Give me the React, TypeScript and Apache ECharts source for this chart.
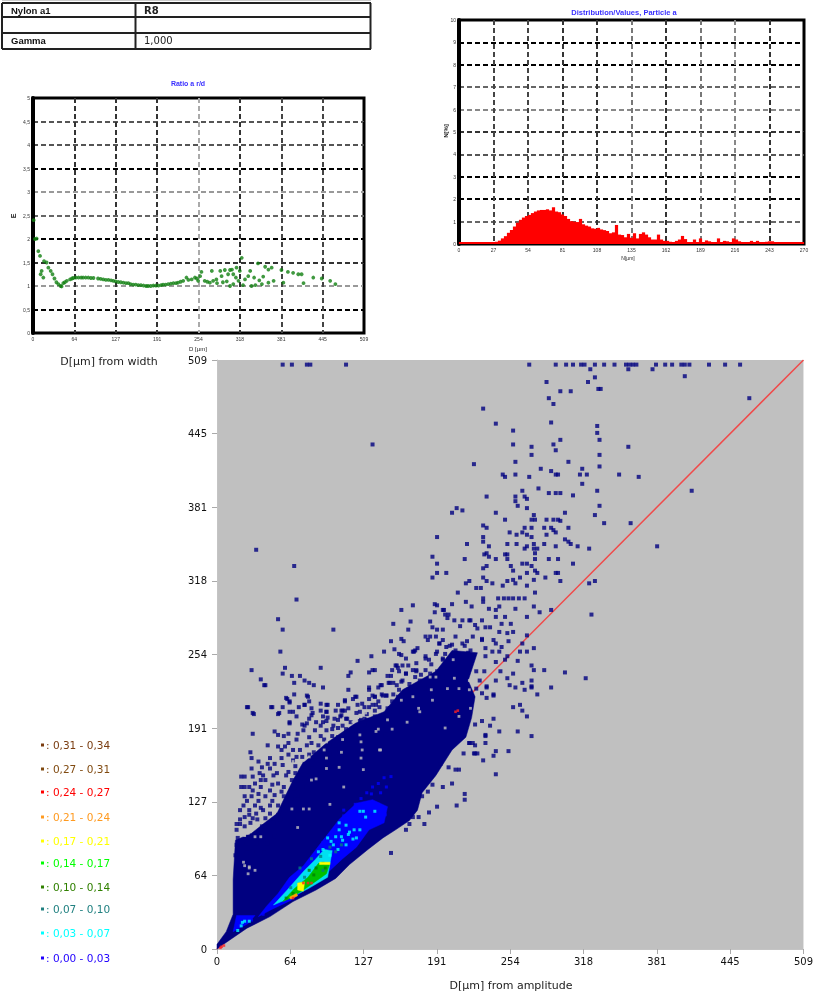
import React, { useEffect, useRef } from "react";
import * as echarts from "echarts";

const mainTicks = ["0", "64", "127", "191", "254", "318", "381", "445", "509"];
const smallXTicks = ["0", "64", "127", "191", "254", "318", "381", "445", "509"];
const leftYTicks = ["0", "0,5", "1", "1,5", "2", "2,5", "3", "3,5", "4", "4,5", "5"];
const histXTicks = ["0", "27", "54", "81", "108", "135", "162", "189", "216", "243", "270"];
const histYTicks = ["0", "1", "2", "3", "4", "5", "6", "7", "8", "9", "10"];
const tableRows = [["Nylon a1", "R8"], ["", ""], ["Gamma", "1,000"]];
const legendRows = [
  ["0,31 - 0,34", "#7a3c10"], ["0,27 - 0,31", "#804a10"], ["0,24 - 0,27", "#ff0000"], ["0,21 - 0,24", "#ff9a20"],
  ["0,17 - 0,21", "#ffff00"], ["0,14 - 0,17", "#00ff00"], ["0,10 - 0,14", "#308000"], ["0,07 - 0,10", "#208080"],
  ["0,03 - 0,07", "#00ffff"], ["0,00 - 0,03", "#2000ff"],
];

const ratioPoints = [
  [1, 2.4], [3, 2], [5.7, 2.01], [8.2, 1.74], [10.8, 1.64], [17, 1.53], [21, 1.5], [23.6, 1.39], [27.2, 1.32], [30, 1.25], [33, 1.16],
  [13.3, 1.32], [11.8, 1.25], [15.9, 1.18], [36, 1.08], [39, 1.04], [42.5, 1], [44, 0.99], [46.6, 1.06], [49, 1.08], [52, 1.11], [57, 1.14], [60, 1.16], [62, 1.17], [66, 1.18], [70, 1.18],
  [74, 1.18], [77, 1.18], [81, 1.18], [85, 1.18], [89, 1.17], [93, 1.17], [100, 1.16], [104, 1.15], [108, 1.14], [112, 1.13], [116, 1.13], [120, 1.12], [123.5, 1.11], [127, 1.1], [131, 1.085],
  [135, 1.08], [139, 1.07], [143, 1.06], [146.6, 1.06], [150, 1.04], [154, 1.03], [158, 1.03], [162, 1.02], [166, 1.02], [170, 1.01], [174, 1], [177, 1], [181, 1], [185, 1.01], [189, 1.01], [193, 1.01],
  [197, 1.02], [200, 1.03], [204, 1.03], [208, 1.04], [212, 1.05], [216, 1.06], [220, 1.06], [223, 1.07], [227, 1.09], [231, 1.11], [236, 1.18], [239, 1.13], [244, 1.14], [249, 1.18], [252, 1.16],
  [257, 1.21], [259, 1.3], [254, 1.11], [264, 1.11], [268, 1.09], [272, 1.07], [275, 1.32], [277, 1.11], [282, 1.14], [288, 1.32], [290, 1.21], [295, 1.34], [303, 1.34], [306, 1.35], [308, 1.04], [303, 1],
  [300, 1.25], [308, 1.25], [313, 1.39], [321, 1.6], [318, 1.32], [326, 1.14], [331, 1.21], [334, 1.32], [316, 1.11], [346, 1.48], [352, 1.04], [357, 1.41], [362, 1.35], [367, 1.39], [370, 1.11],
  [362, 1.07], [382, 1.34], [385, 1.07], [392, 1.3], [400, 1.28], [408, 1.25], [413, 1.25], [416, 1.06], [431, 1.18], [444, 1.16], [457, 1.11], [465, 1.04], [283, 1.06], [292, 1.08], [298, 1.1], [312, 1.18],
  [323, 1.02], [336, 1], [342, 1.02], [348, 1.12], [354, 1.2], [340, 1.18],
];

const histValues = [
  0.09, 0.09, 0.09, 0.09, 0.09, 0.09, 0.09, 0.09, 0.09, 0.09, 0.09, 0.09, 0.1, 0.15, 0.25, 0.35, 0.5, 0.62, 0.78, 0.95,
  1.08, 1.18, 1.25, 1.3, 1.38, 1.45, 1.5, 1.52, 1.52, 1.55, 1.5, 1.64, 1.45, 1.42, 1.32, 1.25, 1.12, 1.02, 1.0, 0.98,
  1.12, 0.88, 0.82, 0.78, 0.7, 0.68, 0.72, 0.65, 0.62, 0.58, 0.48, 0.52, 0.85, 0.42, 0.4, 0.3, 0.45, 0.28, 0.48, 0.25,
  0.45, 0.52, 0.42, 0.3, 0.2, 0.2, 0.42, 0.2, 0.14, 0.14, 0.1, 0.09, 0.14, 0.2, 0.36, 0.22, 0.09, 0.09, 0.2, 0.09,
  0.25, 0.09, 0.16, 0.12, 0.09, 0.09, 0.25, 0.09, 0.14, 0.12, 0.09, 0.25, 0.2, 0.12, 0.09, 0.09, 0.09, 0.14, 0.09, 0.14,
  0.09, 0.09, 0.1, 0.12, 0.12, 0.09, 0.09, 0.09, 0.09, 0.09, 0.09, 0.09, 0.09, 0.09, 0.09,
];

const solidBand = [
  [0, 0], [7, 5], [26, 18], [46, 28], [66, 41], [86, 51], [103, 61], [115, 73], [131, 86], [144, 96], [155, 103], [167, 111], [174, 120], [178, 135], [190, 150],
  [204, 172], [216, 183], [221, 200], [224, 218], [218, 232], [226, 256], [204, 258], [190, 240], [161, 224], [145, 205], [120, 195], [95, 178], [74, 160], [66, 146], [52, 117],
  [40, 108], [30, 100], [16, 94], [14, 60], [14, 30], [8, 15], [0, 4],
];
const blueBand = [
  [43, 37], [53, 48], [63, 62], [75, 72], [89, 90], [106, 112], [121, 126], [135, 129], [148, 123], [145, 109], [132, 103], [121, 88], [109, 78], [96, 66], [80, 54], [64, 42], [47, 34], [36, 28],
];
const blueBandLeft = [[17, 29], [33, 29], [27, 22], [14, 15]];
const cyanBand = [
  [49, 38], [60, 50], [76, 68], [85, 77], [93, 86], [100, 85], [96, 62], [79, 52], [63, 44],
];
const greenBand = [
  [57, 41], [67, 52], [79, 62], [88, 74], [98, 74], [95, 65], [85, 58], [75, 51], [64, 44],
];
const yellowBand = [[70, 57], [76, 58], [75, 50], [70, 51]];
const yellowStrip = [[89, 75], [98, 75], [98, 73], [89, 73]];
const orangeStrip = [[63, 45], [69, 48], [70, 46], [64, 43]];

const navyCells = [
  [57, 505], [65, 505], [78, 505], [81, 505], [112, 505], [135, 436], [34, 345], [67, 331], [69, 302], [53, 285], [57, 276], [101, 276], [55, 257], [30, 241], [38, 233], [42, 228], [59, 243], [57, 238],
  [65, 236], [72, 236], [76, 232], [80, 230], [84, 228], [67, 230], [90, 243], [92, 226], [67, 220], [61, 216], [63, 213], [26, 209], [32, 203], [48, 209], [57, 209], [53, 203], [63, 205], [71, 209],
  [76, 211], [78, 219], [80, 214], [90, 212], [95, 211], [95, 205], [90, 206], [111, 214], [105, 211], [103, 206], [109, 206], [114, 224], [114, 236], [116, 239], [122, 249], [134, 253], [145, 257], [154, 259],
  [151, 266], [160, 268], [162, 266], [166, 276], [153, 281], [168, 283], [160, 293], [170, 297], [132, 239], [135, 241], [137, 241], [143, 228], [151, 236], [149, 230], [153, 230], [132, 226], [132, 224], [132, 216],
  [137, 218], [143, 220], [147, 219], [153, 220], [158, 224], [118, 216], [120, 218], [122, 211], [124, 205], [124, 197], [132, 209], [135, 211], [130, 203], [156, 245], [158, 240], [160, 254], [164, 251], [170, 257],
  [172, 258], [166, 245], [164, 238], [170, 241], [161, 232], [167, 229], [172, 235], [76, 193], [82, 202], [80, 199], [69, 201], [63, 195], [90, 193], [95, 197], [92, 201], [101, 193], [105, 198], [107, 201], [113, 199], [109, 193],
  [191, 356], [187, 339], [191, 333], [191, 325], [199, 325], [187, 321], [189, 298], [191, 297], [189, 291], [196, 293], [198, 289], [200, 286], [185, 283], [187, 278], [191, 276], [196, 276], [181, 270], [185, 270], [190, 270],
  [193, 264], [199, 261], [158, 255], [174, 260], [181, 253], [184, 250], [191, 257], [196, 251], [155, 245], [173, 241], [177, 237], [185, 238], [191, 240], [196, 235],
  [271, 505], [294, 505], [303, 505], [309, 505], [316, 505], [319, 505], [328, 505], [336, 505], [345, 505], [355, 505], [358, 505], [361, 505], [364, 505], [381, 505], [389, 505], [395, 505], [403, 505], [406, 505], [410, 505], [427, 505], [441, 505], [454, 505],
  [324, 501], [357, 501], [378, 501], [406, 495], [328, 494], [322, 490], [286, 490], [331, 484], [333, 484], [298, 482], [307, 482], [462, 476], [288, 476], [292, 471], [231, 467], [290, 455], [242, 454], [330, 452], [257, 448], [330, 446],
  [298, 440], [332, 440], [257, 436], [292, 436], [273, 434], [357, 434], [294, 431], [273, 427], [332, 427], [259, 421], [305, 421], [223, 419], [332, 417], [281, 415], [317, 415], [290, 413], [294, 410], [296, 410], [248, 410], [250, 408],
  [259, 410], [271, 408], [315, 410], [321, 410], [349, 410], [366, 408], [317, 402], [279, 398], [265, 396], [288, 394], [294, 394], [298, 394], [309, 392], [330, 396], [412, 396], [234, 391], [259, 391], [267, 391], [269, 389], [259, 387],
  [261, 383], [269, 381], [332, 383], [208, 381], [204, 377], [213, 379], [242, 377], [302, 377], [328, 375], [275, 375], [273, 371], [276, 371], [250, 371], [286, 371], [292, 371], [296, 371], [298, 370], [336, 368], [359, 368], [231, 366],
  [234, 364], [267, 364], [273, 364], [305, 364], [284, 364], [290, 364], [292, 362], [254, 360], [260, 358], [265, 360], [269, 358], [273, 356], [286, 358], [294, 360], [231, 356], [231, 352], [302, 354], [305, 352], [307, 350], [313, 348],
  [323, 346], [382, 348], [217, 350], [236, 348], [252, 350], [260, 350], [267, 346], [269, 348], [275, 350], [275, 346], [278, 346], [284, 350], [294, 348], [276, 342], [234, 342], [232, 341], [236, 339], [250, 341], [252, 341], [215, 337],
  [242, 337], [252, 337], [288, 337], [296, 337], [276, 337], [265, 333], [269, 333], [234, 331], [231, 329], [255, 331], [257, 327], [273, 331], [276, 327], [309, 333], [294, 325], [296, 325], [263, 321], [285, 321], [269, 325], [278, 325],
  [231, 321], [298, 318], [328, 318], [323, 316], [219, 318], [216, 316], [234, 318], [239, 316], [275, 319], [257, 319], [252, 318], [225, 312], [229, 312], [209, 308], [259, 316], [248, 314], [269, 314], [276, 308], [244, 303], [249, 303],
  [253, 303], [257, 303], [262, 303], [267, 303], [231, 303], [290, 293], [325, 289], [204, 298], [216, 300], [231, 300], [275, 296], [269, 287], [280, 291], [259, 294], [245, 296], [236, 294], [221, 296], [197, 293], [201, 289], [206, 284],
  [220, 284], [230, 284], [242, 287], [250, 287], [255, 281], [211, 279], [226, 277], [237, 278], [245, 274], [257, 274], [196, 267], [207, 270], [217, 266], [230, 268], [242, 264], [253, 266], [269, 271], [265, 264], [275, 260], [263, 257],
  [269, 257], [261, 249], [252, 253], [245, 257], [233, 260], [220, 258], [207, 258], [171, 257], [273, 245], [275, 241], [284, 241], [302, 239], [320, 234], [257, 238], [252, 234], [265, 230], [273, 232], [273, 226], [259, 226], [267, 224],
  [290, 226], [278, 220], [234, 226], [240, 220], [254, 228], [246, 240], [242, 232], [210, 244], [196, 250],
  [41, 228], [60, 217], [79, 218], [111, 215], [121, 218], [135, 219], [147, 219], [157, 218], [170, 219], [27, 209], [47, 209], [63, 214], [76, 211], [96, 211], [111, 206], [128, 209], [141, 209], [160, 212], [31, 204], [54, 204], [66, 205], [83, 204], [95, 205], [108, 202],
  [121, 204], [137, 206], [150, 205], [63, 196], [78, 195], [92, 196], [102, 199], [112, 199], [125, 198], [137, 201], [167, 196], [31, 186], [50, 188], [53, 185], [62, 186], [75, 189], [85, 189], [95, 189], [105, 191], [118, 191], [128, 194], [139, 195],
  [44, 176], [53, 175], [59, 175], [69, 181], [80, 183], [93, 181], [105, 183], [118, 185], [129, 185], [66, 172], [78, 176], [88, 176], [98, 176], [111, 179], [122, 178], [29, 170], [46, 165], [56, 165], [69, 166], [80, 168], [92, 172], [103, 172], [115, 173], [124, 171],
  [39, 157], [30, 165], [46, 156], [57, 159], [66, 163], [76, 160], [86, 163], [98, 168], [21, 149], [24, 149], [31, 149], [49, 150], [62, 153], [72, 150], [83, 156], [95, 156], [106, 158], [21, 140], [24, 140], [33, 143], [42, 146], [53, 143], [65, 146], [76, 147], [86, 147],
  [46, 137], [31, 137], [56, 136], [67, 139], [78, 140], [24, 132], [30, 132], [42, 132], [50, 133], [65, 130], [23, 124], [33, 124], [53, 124], [34, 117], [46, 117], [24, 114], [31, 113], [42, 113], [53, 116],
  [17, 103], [29, 109], [39, 106], [49, 109], [18, 96], [27, 97], [37, 97], [50, 97], [17, 90], [26, 91], [34, 91], [44, 91], [41, 83], [26, 83], [16, 81], [31, 84], [40, 120], [36, 128], [38, 140], [60, 125], [70, 133], [55, 112], [20, 108], [28, 120], [37, 152], [44, 160], [60, 150], [68, 158], [80, 150], [92, 163], [100, 160], [112, 165], [120, 180], [135, 190], [146, 185], [152, 195], [160, 205], [170, 210], [180, 225], [190, 235], [200, 245], [210, 255], [215, 262],
  [242, 151], [231, 163], [207, 155], [210, 155], [215, 134], [215, 129], [208, 124], [191, 123], [184, 118], [175, 114], [180, 108], [164, 103], [151, 83], [196, 140], [204, 143], [187, 142], [178, 132], [183, 136], [170, 114], [167, 108], [222, 178], [224, 169], [242, 171], [233, 178], [245, 188], [233, 185], [219, 178], [194, 160], [201, 157],
  [213, 284], [219, 284], [224, 280], [233, 278], [242, 293], [247, 281], [252, 273], [240, 267], [230, 267], [222, 270], [213, 264], [204, 263], [193, 264], [183, 267], [233, 253], [242, 248], [250, 250], [247, 261], [239, 257], [198, 255], [190, 255], [181, 251], [173, 247], [161, 245], [157, 243], [164, 238], [173, 240], [181, 241], [152, 241], [150, 230], [160, 231], [142, 228], [137, 218], [144, 219], [152, 214], [138, 211], [150, 208], [128, 199], [234, 227], [230, 221], [234, 217], [240, 219], [257, 209], [263, 211], [265, 206], [269, 201], [240, 199], [230, 197], [237, 193], [224, 194], [233, 184], [261, 188], [273, 184], [224, 176], [219, 178], [214, 169], [223, 169], [226, 169], [240, 167], [253, 171], [273, 227], [225, 240], [228, 232], [232, 240], [225, 225], [212, 250], [218, 256],
  [20, 112], [24, 106], [17, 108], [38, 102], [45, 108], [35, 112], [28, 116], [20, 120], [38, 122], [46, 124], [58, 120], [26, 128], [36, 134], [48, 128], [58, 132], [28, 140], [38, 146], [48, 142], [58, 140], [70, 146], [30, 156], [40, 150], [52, 152], [68, 152], [36, 162], [50, 160], [62, 168], [74, 166],
  [56, 172], [62, 178], [72, 172], [84, 170], [58, 184], [70, 186], [82, 178], [90, 184], [100, 184], [74, 194], [86, 196], [100, 190], [112, 190], [82, 208], [96, 200], [108, 206], [116, 196], [130, 198], [126, 212], [140, 214], [148, 208], [114, 208], [140, 226], [148, 236], [156, 228], [168, 226], [176, 232], [186, 246], [202, 262],
];
const holeCells = [
  [198, 191], [165, 196], [141, 172], [152, 190], [175, 208], [176, 205], [187, 215], [219, 224], [220, 208], [210, 201], [200, 225], [206, 234], [190, 235], [222, 238], [219, 232], [186, 224], [125, 165], [127, 155], [110, 140], [98, 125], [24, 72], [28, 70], [27, 65], [33, 68], [70, 105],
  [65, 121], [75, 121], [80, 121], [82, 146], [86, 147], [95, 156], [106, 157], [95, 165], [126, 172], [142, 172], [124, 185], [138, 188], [125, 179], [108, 170], [93, 172], [80, 166], [66, 162], [95, 179], [109, 181], [118, 196], [129, 204], [148, 198],
  [27, 100], [33, 97], [24, 98], [38, 97], [23, 75], [28, 71], [140, 190], [160, 215], [170, 218], [205, 250], [185, 235], [210, 225],
];
const blueCells = [[20, 27], [24, 26], [30, 25], [18, 20], [40, 30], [110, 115], [125, 122], [140, 125], [128, 112], [115, 108], [146, 116], [100, 100], [92, 92], [135, 108], [120, 125], [145, 148], [151, 149], [140, 143], [135, 140], [130, 135], [142, 135], [125, 130], [147, 140], [134, 134], [110, 120]];
const cyanCells = [
  [124, 119], [127, 119], [137, 119], [106, 103], [115, 101], [103, 97], [109, 94], [119, 103], [101, 90], [92, 86], [112, 90], [121, 96], [88, 84], [105, 86], [98, 81], [108, 97], [99, 93], [124, 103], [129, 114], [112, 107], [106, 109], [22, 23], [24, 24], [21, 20], [18, 16], [28, 24], [118, 95], [114, 99], [96, 96],
];
const tealCells = [[72, 70], [82, 78], [90, 80], [103, 84], [108, 90], [98, 88], [76, 62], [64, 53], [92, 68]];
const darkGreenCells = [[80, 68], [86, 70], [92, 74], [84, 64], [72, 56], [66, 48], [60, 44], [94, 70]];
const redCells = [[75, 57], [79, 57], [82, 57], [66, 44], [207, 205], [4, 2], [3, 1], [6, 3], [209, 206]];

const axisLabelSmall = { fontSize: 5, color: "#333", fontFamily: "Liberation Sans", margin: 3 };

const smallGrid = (yLines: string[], xLines: string[]) => ({
  x: {
    axisLine: { show: false }, axisTick: { show: false },
    splitLine: { show: true, lineStyle: { type: [5, 3], width: 2, color: xLines } },
  },
  y: {
    axisLine: { show: true, lineStyle: { color: "#000", width: 4 } }, axisTick: { show: false },
    splitLine: { show: true, lineStyle: { type: [5, 3], width: 2, color: yLines } },
  },
});

const polySeries = (points: number[][], fill: string) => ({
  type: "custom", xAxisIndex: 2, yAxisIndex: 2, silent: true, data: [points[0]],
  renderItem: (_p: any, api: any) => ({
    type: "polygon",
    shape: { points: points.map((pt) => api.coord(pt)) },
    style: { fill, stroke: fill, lineWidth: 0.5 },
  }),
});
const cellSeries = (cells: number[][], color: string, size = 4) => ({
  type: "scatter", xAxisIndex: 2, yAxisIndex: 2, silent: true, symbol: "rect", symbolSize: size,
  data: cells, itemStyle: { color },
});

export default function App() {
  const ref = useRef<HTMLDivElement>(null);
  useEffect(() => {
    const chart = echarts.init(ref.current!, null, { renderer: "svg" });
    const left = smallGrid(
      ["#000", "#000", "#999", "#333", "#000", "#666", "#999", "#000", "#555", "#555", "#000"],
      ["#000", "#333", "#333", "#333", "#aaa", "#333", "#444", "#444", "#000"],
    );
    const right = smallGrid(
      ["#000", "#666", "#000", "#000", "#555", "#333", "#888", "#666", "#000", "#000", "#000"],
      ["#000", "#444", "#444", "#333", "#333", "#777", "#333", "#777", "#888", "#333", "#000"],
    );
    const tableGraphics: any[] = [];
    const lineStyle = { stroke: "#222", lineWidth: 2 };
    [3, 17, 33, 49].forEach((y) => tableGraphics.push({ type: "line", shape: { x1: 2, y1: y, x2: 371, y2: y }, style: lineStyle }));
    [2, 135.5, 370.5].forEach((x) => tableGraphics.push({ type: "line", shape: { x1: x, y1: 3, x2: x, y2: 49 }, style: lineStyle }));
    tableGraphics.push({ type: "line", shape: { x1: 2, y1: 0, x2: 371, y2: 0 }, style: { stroke: "#999", lineWidth: 1 } });
    tableRows.forEach((row, i) => {
      const y = [10, 25, 40][i];
      tableGraphics.push({ type: "text", x: 11, y, style: { text: row[0], font: "bold 9.5px 'Liberation Sans'", fill: "#111", verticalAlign: "middle" } });
      tableGraphics.push({ type: "text", x: 144, y, style: { text: row[1], font: `${i === 0 ? "bold " : ""}10px 'DejaVu Sans'`, fill: "#222", verticalAlign: "middle" } });
    });
    const legendY = [745, 769, 792, 817, 841, 863, 887, 909, 933, 958];
    const legendGraphics = legendRows.flatMap(([label, color], i) => [
      { type: "rect", shape: { x: 41, y: legendY[i] - 1.5, width: 3, height: 3 }, style: { fill: color } },
      { type: "text", x: 46, y: legendY[i], style: { text: ": " + label, font: "10.5px 'DejaVu Sans'", fill: color, verticalAlign: "middle" } },
    ]);
    const txt = (text: string, x: number, y: number, font: string, fill = "#222", rotation = 0) => ({
      type: "text", x, y, rotation,
      style: { text, font, fill, align: "center", verticalAlign: "middle" },
    });
    const seriesList: any[] = [
      { type: "scatter", xAxisIndex: 0, yAxisIndex: 0, symbol: "circle", symbolSize: 3.8, data: ratioPoints, itemStyle: { color: "#108010" }, silent: true },
      { type: "bar", xAxisIndex: 1, yAxisIndex: 1, barWidth: 3.2, silent: true, itemStyle: { color: "#ff0000" }, data: histValues.map((v, i) => [(i + 0.5) * (270 / histValues.length), v]) },
      { type: "line", xAxisIndex: 2, yAxisIndex: 2, symbol: "none", silent: true, lineStyle: { color: "#f04a4a", width: 1.5 }, data: [[0, 0], [509, 509]] },
      polySeries(solidBand, "#000080"),
      cellSeries(navyCells, "#000080"),
      cellSeries(holeCells, "#c0c0c0", 2.8),
      polySeries(blueBand, "#0000ff"),
      polySeries(blueBandLeft, "#0000ff"),
      cellSeries(blueCells, "#0000ff", 3),
      polySeries(cyanBand, "#00e0f0"),
      cellSeries(cyanCells, "#00ffff", 3),
      polySeries(greenBand, "#00c000"),
      cellSeries(tealCells, "#008080", 3),
      cellSeries(darkGreenCells, "#008000", 3),
      polySeries(yellowBand, "#ffff00"),
      polySeries(yellowStrip, "#ffff00"),
      polySeries(orangeStrip, "#ffa000"),
      cellSeries(redCells, "#ff2020", 2.6),
    ];

    chart.setOption({
      animation: false,
      backgroundColor: "#fff",
      grid: [
        { left: 33, top: 98, width: 331, height: 235, show: true, borderColor: "#000", borderWidth: 3, backgroundColor: "#fff" },
        { left: 459, top: 20, width: 345, height: 224, show: true, borderColor: "#000", borderWidth: 3, backgroundColor: "#fff" },
        { left: 217, top: 360, width: 589, height: 589, show: true, borderWidth: 0, backgroundColor: "#c0c0c0" },
      ],
      xAxis: [
        { type: "value", gridIndex: 0, min: 0, max: 509, interval: 63.625, ...left.x, axisLabel: { ...axisLabelSmall, formatter: (v: number) => smallXTicks[Math.round(v / 63.625)] } },
        { type: "value", gridIndex: 1, min: 0, max: 270, interval: 27, ...right.x, axisLabel: { ...axisLabelSmall, formatter: (v: number) => histXTicks[Math.round(v / 27)] } },
        {
          type: "value", gridIndex: 2, min: 0, max: 509, interval: 63.625,
          axisLine: { show: true, lineStyle: { color: "#c4c4c4", width: 1 } },
          axisTick: { show: true, length: 5, lineStyle: { color: "#aaa" } }, splitLine: { show: false },
          axisLabel: { fontSize: 10, color: "#111", fontFamily: "DejaVu Sans", margin: 7, formatter: (v: number) => mainTicks[Math.round(v / 63.625)] },
        },
      ],
      yAxis: [
        { type: "value", gridIndex: 0, min: 0, max: 5, interval: 0.5, ...left.y, axisLabel: { ...axisLabelSmall, formatter: (v: number) => leftYTicks[Math.round(v * 2)] } },
        { type: "value", gridIndex: 1, min: 0, max: 10, interval: 1, ...right.y, axisLabel: { ...axisLabelSmall, formatter: (v: number) => histYTicks[Math.round(v)] } },
        {
          type: "value", gridIndex: 2, min: 0, max: 509, interval: 63.625,
          axisLine: { show: true, lineStyle: { color: "#c4c4c4", width: 1 } },
          axisTick: { show: true, length: 5, lineStyle: { color: "#aaa" } }, splitLine: { show: false },
          axisLabel: { fontSize: 10, color: "#111", fontFamily: "DejaVu Sans", margin: 10, formatter: (v: number) => mainTicks[Math.round(v / 63.625)] },
        },
      ],
      series: seriesList.map((s, i) => ({ ...s, z: i + 2 })),
      graphic: [
        ...tableGraphics,
        ...legendGraphics,
        txt("Ratio a r/d", 188, 83, "bold 7px 'Liberation Sans'", "#3a30ff"),
        txt("Distribution/Values, Particle a", 624, 12, "bold 7.5px 'Liberation Sans'", "#3a30ff"),
        txt("D [µm]", 198, 349, "6px 'Liberation Sans'"),
        txt("N[µm]", 628, 258, "5px 'Liberation Sans'"),
        txt("E", 13, 216, "bold 7px 'Liberation Sans'", "#222", Math.PI / 2),
        txt("N[%]", 446, 131, "bold 6px 'Liberation Sans'", "#222", Math.PI / 2),
        txt("D[µm] from width", 109, 361, "11px 'DejaVu Sans'"),
        txt("D[µm] from amplitude", 511, 985, "11px 'DejaVu Sans'"),
      ],
    });
    return () => chart.dispose();
  }, []);
  return (
    <div
      ref={ref}
      style={{ position: "absolute", left: 0, top: 0, width: 816, height: 992, filter: "blur(0.6px)" }}
    />
  );
}
